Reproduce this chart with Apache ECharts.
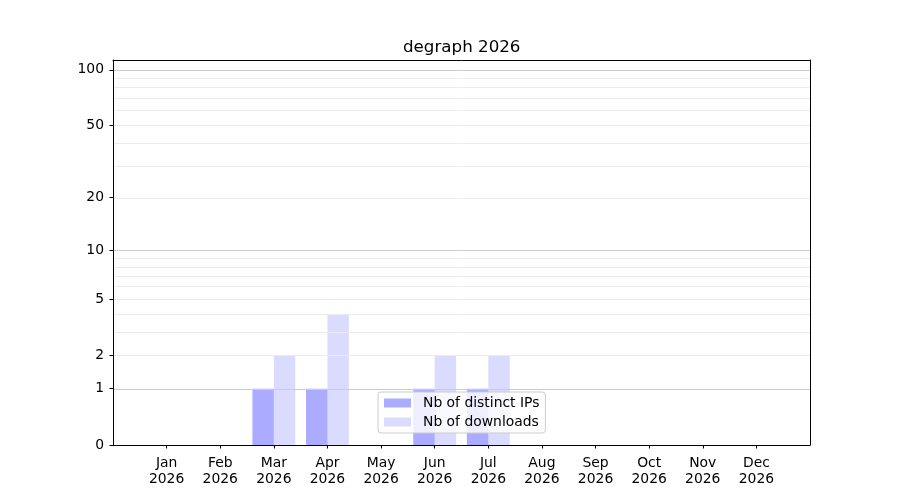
<!DOCTYPE html>
<html>
<head>
    <meta charset="utf-8">
    <script src="https://cdn.jsdelivr.net/npm/echarts@6/dist/echarts.min.js"></script>
</head>
<body style="margin:0">

    <div id="main" style="width:900px;height:500px;"></div>

<script type="text/javascript">
var months = ['Jan\n2026', 'Feb\n2026', 'Mar\n2026', 'Apr\n2026', 'May\n2026', 'Jun\n2026',
              'Jul\n2026', 'Aug\n2026', 'Sep\n2026', 'Oct\n2026', 'Nov\n2026', 'Dec\n2026'];
var distinctIps = [0, 0, 1, 1, 0, 1, 1, 0, 0, 0, 0, 0];
var downloads   = [0, 0, 2, 4, 0, 2, 2, 0, 0, 0, 0, 0];
var yTicks = [0, 1, 2, 5, 10, 20, 50, 100];
var majorGrid = [1, 10, 100];
var minorGrid = [2, 3, 4, 5, 6, 7, 8, 9, 20, 30, 40, 50, 60, 70, 80, 90];
var yTop = 113; // top of the y range

// y scale is log10(1 + v)
function sy(v) { return Math.log10(1 + v); }
function unsy(t) { return Math.round(Math.pow(10, t) - 1); }

// one empty slot on each side, like the matplotlib margins
var cats = [''].concat(months, ['']);
function pad(arr) {
    return [null].concat(arr.map(function (v) { return sy(v); }), [null]);
}

var gridLines = majorGrid.map(function (v) {
    return { yAxis: sy(v), lineStyle: { color: '#cccccc' } };
}).concat(minorGrid.map(function (v) {
    return { yAxis: sy(v), lineStyle: { color: '#ececec' } };
}));

var font = 'DejaVu Sans';
var frame = { show: true, onZero: false, lineStyle: { color: '#000', width: 1 } };
var myChart = echarts.init(document.getElementById('main'));
myChart.setOption({
    animation: false,
    title: {
        text: 'degraph 2026',
        left: 403, top: 39, padding: 0,
        textStyle: { fontFamily: font, fontSize: 16.7, fontWeight: 'normal', color: '#000' }
    },
    grid: { left: 113, right: 90, top: 60, bottom: 55 },
    legend: {
        orient: 'vertical',
        left: 378, top: 392,
        padding: [4, 6, 4, 6],
        itemGap: 5,
        itemWidth: 27, itemHeight: 9,
        icon: 'rect',
        backgroundColor: 'rgba(255,255,255,0.8)',
        borderColor: '#cccccc', borderWidth: 1, borderRadius: 3,
        textStyle: { fontFamily: font, fontSize: 13.9, color: '#000', padding: [0, 0, 0, 7] },
        data: ['Nb of distinct IPs', 'Nb of downloads']
    },
    xAxis: [
        {
            type: 'category',
            data: cats,
            boundaryGap: false,
            z: 10,
            axisLine: frame,
            axisTick: {
                length: 3.5, lineStyle: { color: '#000' },
                interval: function (i) { return i > 0 && i < cats.length - 1; }
            },
            axisLabel: {
                interval: 0, margin: 10, color: '#000',
                fontFamily: font, fontSize: 13.9, lineHeight: 16, align: 'center'
            },
            splitLine: { show: false }
        },
        {
            // top spine
            type: 'category', data: cats, boundaryGap: false, position: 'top', z: 10,
            axisLine: frame, axisTick: { show: false }, axisLabel: { show: false },
            splitLine: { show: false }
        }
    ],
    yAxis: [
        {
            type: 'value',
            min: 0, max: sy(yTop),
            z: 10,
            axisLine: frame,
            axisTick: {
                show: true, length: 3.5, lineStyle: { color: '#000' },
                customValues: yTicks.map(sy)
            },
            axisLabel: {
                color: '#000', fontFamily: font, fontSize: 13.9, margin: 9,
                padding: [3, 0, 0, 0],
                customValues: yTicks.map(sy),
                formatter: function (t) { return String(unsy(t)); }
            },
            splitLine: { show: false }
        },
        {
            // right spine
            type: 'value', min: 0, max: sy(yTop), position: 'right', z: 10,
            axisLine: frame, axisTick: { show: false }, axisLabel: { show: false },
            splitLine: { show: false }
        }
    ],
    series: [
        {
            name: 'Nb of distinct IPs',
            type: 'bar',
            data: pad(distinctIps),
            barWidth: '40%',
            barGap: '0%',
            itemStyle: { color: 'rgba(0,0,255,0.33)' },
            markLine: {
                silent: true,
                symbol: ['none', 'none'],
                label: { show: false },
                lineStyle: { type: 'solid', width: 1 },
                data: gridLines
            },
            z: 1
        },
        {
            name: 'Nb of downloads',
            type: 'bar',
            data: pad(downloads),
            barWidth: '40%',
            barGap: '0%',
            itemStyle: { color: 'rgba(0,0,255,0.14)' },
            z: 2
        }
    ]
});
</script>

</body>
</html>
